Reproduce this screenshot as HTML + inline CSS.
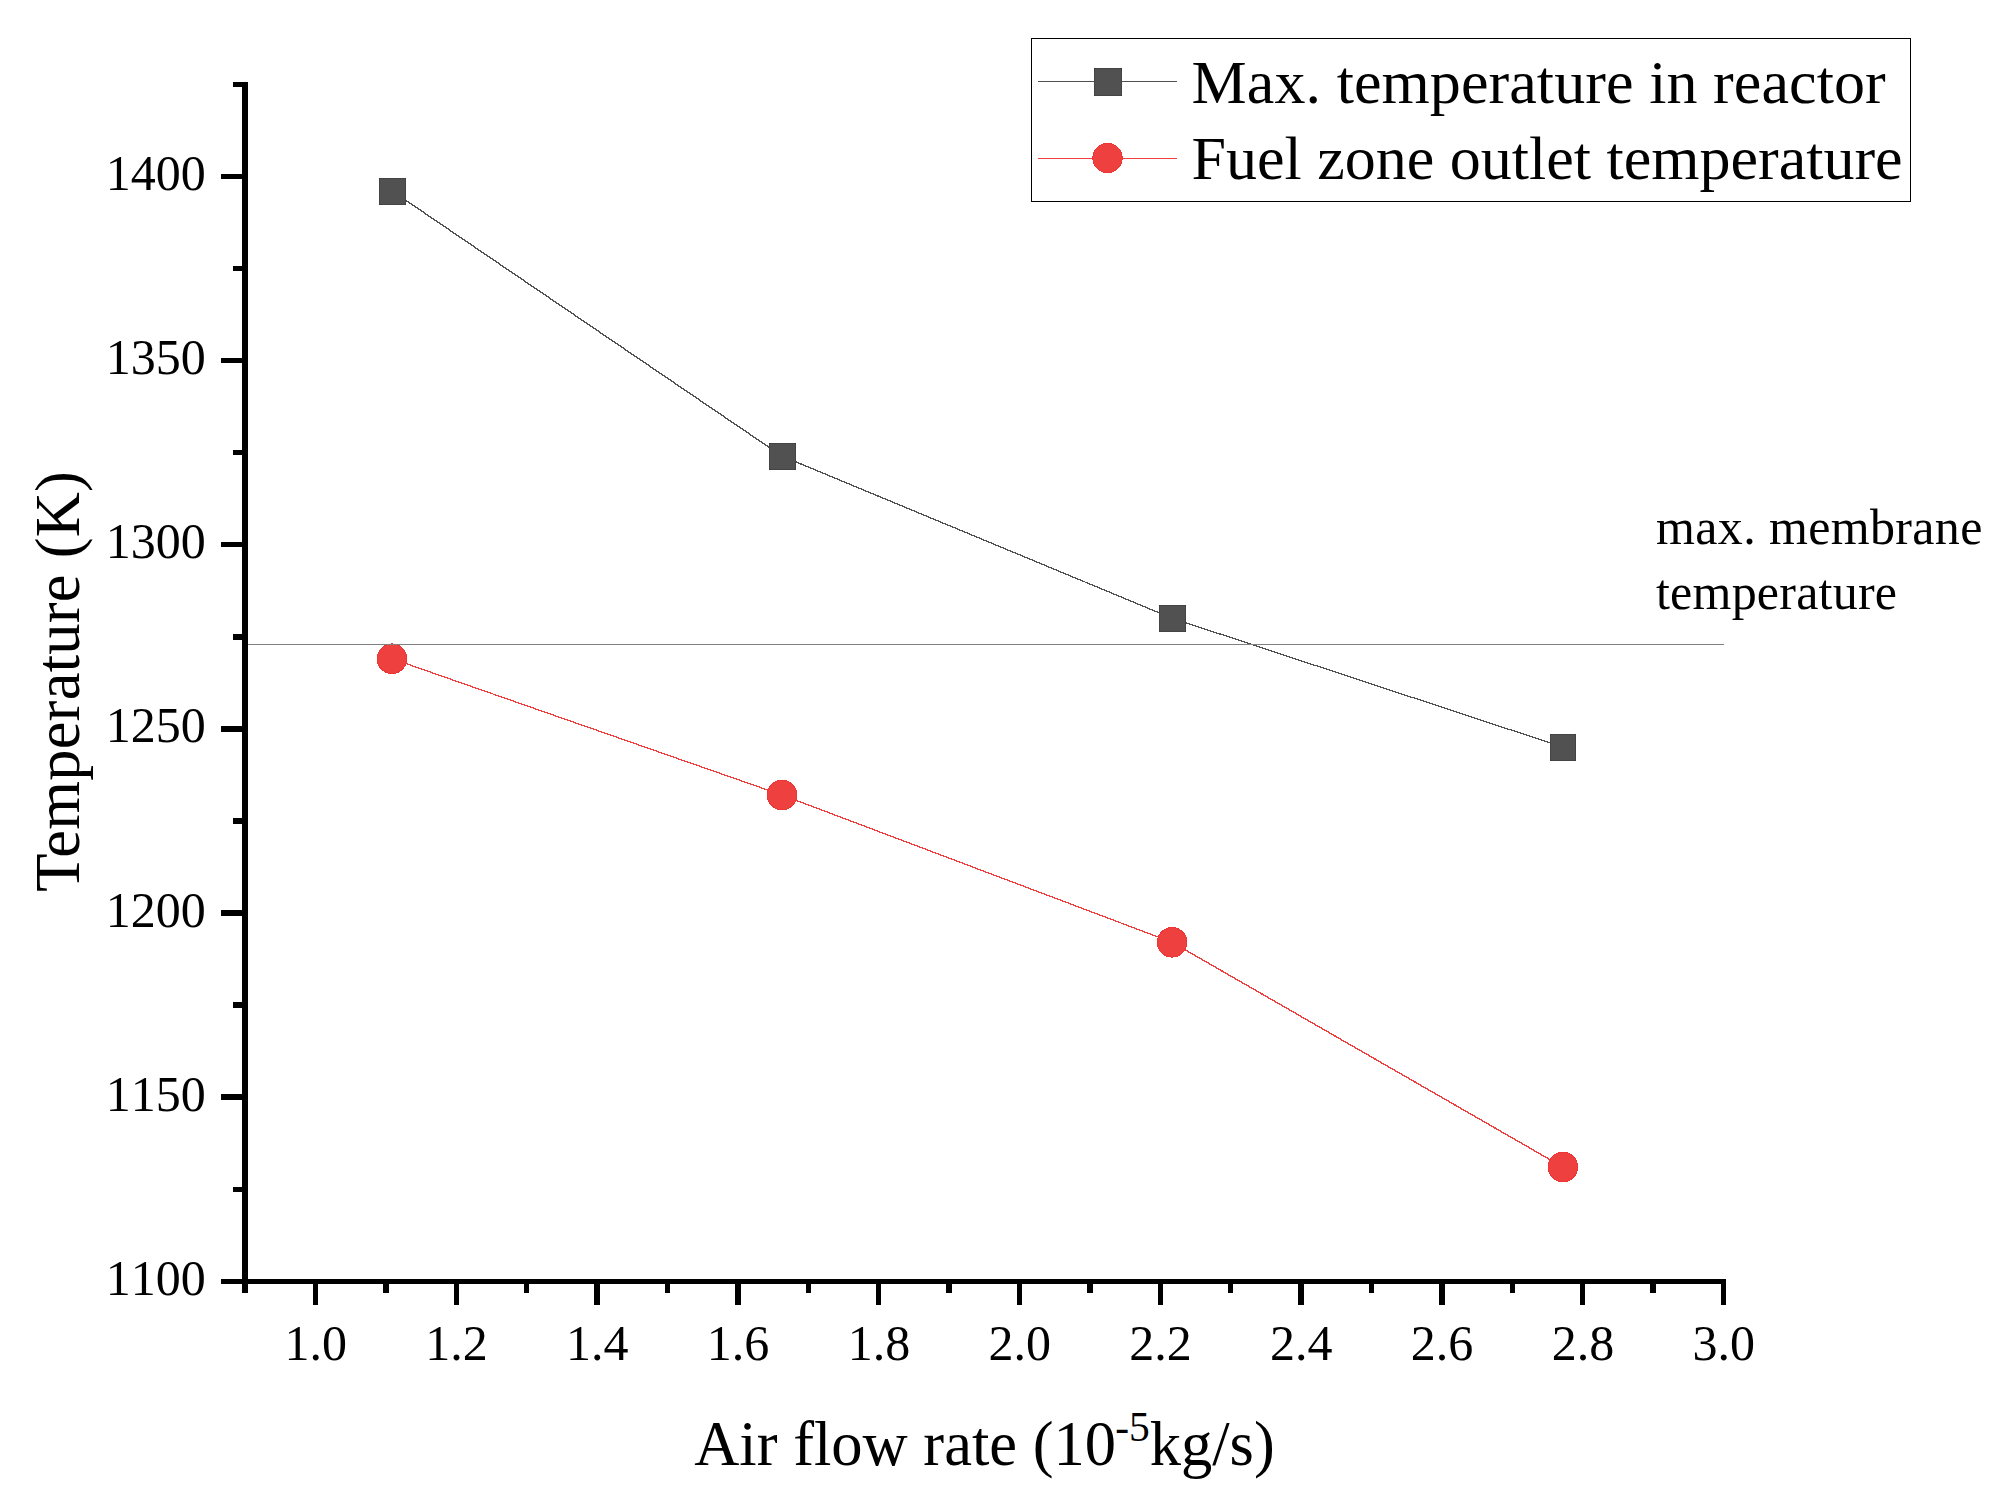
<!DOCTYPE html>
<html lang="en">
<head>
<meta charset="utf-8">
<title>Temperature vs air flow rate</title>
<style>
html,body{margin:0;padding:0;background:#fff;}
body{width:2007px;height:1502px;overflow:hidden;}
svg{display:block;}
</style>
</head>
<body>
<svg width="2007" height="1502" viewBox="0 0 2007 1502" font-family="'Liberation Serif', serif" fill="#000">
<rect width="2007" height="1502" fill="#fff"/>
<g fill="#000" shape-rendering="crispEdges">
<rect x="242" y="82" width="6" height="1202"/>
<rect x="242" y="1279" width="1484" height="5"/>
<rect x="221" y="1279" width="22" height="5"/>
<rect x="233" y="1187" width="10" height="5"/>
<rect x="221" y="1094" width="22" height="6"/>
<rect x="233" y="1002" width="10" height="6"/>
<rect x="221" y="910" width="22" height="6"/>
<rect x="233" y="818" width="10" height="6"/>
<rect x="221" y="726" width="22" height="6"/>
<rect x="233" y="634" width="10" height="6"/>
<rect x="221" y="542" width="22" height="5"/>
<rect x="233" y="450" width="10" height="5"/>
<rect x="221" y="358" width="22" height="5"/>
<rect x="233" y="266" width="10" height="5"/>
<rect x="221" y="174" width="22" height="5"/>
<rect x="233" y="82" width="10" height="5"/>
<rect x="242" y="1283" width="6" height="10"/>
<rect x="313" y="1283" width="5" height="22"/>
<rect x="383" y="1283" width="6" height="10"/>
<rect x="454" y="1283" width="5" height="22"/>
<rect x="524" y="1283" width="5" height="10"/>
<rect x="594" y="1283" width="6" height="22"/>
<rect x="665" y="1283" width="5" height="10"/>
<rect x="735" y="1283" width="6" height="22"/>
<rect x="806" y="1283" width="5" height="10"/>
<rect x="876" y="1283" width="5" height="22"/>
<rect x="946" y="1283" width="6" height="10"/>
<rect x="1017" y="1283" width="5" height="22"/>
<rect x="1087" y="1283" width="6" height="10"/>
<rect x="1158" y="1283" width="5" height="22"/>
<rect x="1228" y="1283" width="5" height="10"/>
<rect x="1298" y="1283" width="6" height="22"/>
<rect x="1369" y="1283" width="5" height="10"/>
<rect x="1439" y="1283" width="6" height="22"/>
<rect x="1510" y="1283" width="5" height="10"/>
<rect x="1580" y="1283" width="5" height="22"/>
<rect x="1650" y="1283" width="6" height="10"/>
<rect x="1721" y="1283" width="5" height="22"/>
</g>
<g font-size="50" style="font-kerning:none">
<text x="205.8" y="1294.8" text-anchor="end">1100</text>
<text x="205.8" y="1110.6" text-anchor="end">1150</text>
<text x="205.8" y="926.5" text-anchor="end">1200</text>
<text x="205.8" y="742.3" text-anchor="end">1250</text>
<text x="205.8" y="558.1" text-anchor="end">1300</text>
<text x="205.8" y="374.0" text-anchor="end">1350</text>
<text x="205.8" y="189.8" text-anchor="end">1400</text>
<text x="315.7" y="1359.6" text-anchor="middle">1.0</text>
<text x="456.5" y="1359.6" text-anchor="middle">1.2</text>
<text x="597.3" y="1359.6" text-anchor="middle">1.4</text>
<text x="738.1" y="1359.6" text-anchor="middle">1.6</text>
<text x="878.9" y="1359.6" text-anchor="middle">1.8</text>
<text x="1019.7" y="1359.6" text-anchor="middle">2.0</text>
<text x="1160.5" y="1359.6" text-anchor="middle">2.2</text>
<text x="1301.3" y="1359.6" text-anchor="middle">2.4</text>
<text x="1442.1" y="1359.6" text-anchor="middle">2.6</text>
<text x="1582.9" y="1359.6" text-anchor="middle">2.8</text>
<text x="1723.7" y="1359.6" text-anchor="middle">3.0</text>
</g>
<text font-size="62.5" text-anchor="middle" letter-spacing="0.24" transform="translate(78.7 681.3) rotate(-90)">Temperature (K)</text>
<text font-size="62.5" text-anchor="middle" x="984.5" y="1465">Air flow rate (10<tspan font-size="41.5" dy="-24" dx="-0.8">-5</tspan><tspan dy="24">kg/s)</tspan></text>
<line x1="392.0" y1="190.9" x2="782.0" y2="456.1" stroke="#515151" stroke-width="1.39" shape-rendering="crispEdges"/>
<line x1="782.0" y1="456.1" x2="1172.1" y2="618.2" stroke="#515151" stroke-width="1.31" shape-rendering="crispEdges"/>
<line x1="1172.1" y1="618.2" x2="1562.8" y2="747.1" stroke="#515151" stroke-width="1.26" shape-rendering="crispEdges"/>
<line x1="392.0" y1="658.7" x2="782.0" y2="795.0" stroke="#ef4040" stroke-width="1.27" shape-rendering="crispEdges"/>
<line x1="782.0" y1="795.0" x2="1172.1" y2="942.3" stroke="#ef4040" stroke-width="1.29" shape-rendering="crispEdges"/>
<line x1="1172.1" y1="942.3" x2="1562.8" y2="1167.0" stroke="#ef4040" stroke-width="1.37" shape-rendering="crispEdges"/>
<g shape-rendering="crispEdges">
<rect x="379" y="178" width="27" height="27" fill="#444444"/>
<rect x="380" y="179" width="25" height="25" fill="#515151"/>
<rect x="379" y="178" width="1" height="1" fill="#393939"/>
<rect x="379" y="204" width="1" height="1" fill="#393939"/>
<rect x="405" y="178" width="1" height="1" fill="#393939"/>
<rect x="405" y="204" width="1" height="1" fill="#393939"/>
<rect x="769" y="443" width="27" height="27" fill="#444444"/>
<rect x="770" y="444" width="25" height="25" fill="#515151"/>
<rect x="769" y="443" width="1" height="1" fill="#393939"/>
<rect x="769" y="469" width="1" height="1" fill="#393939"/>
<rect x="795" y="443" width="1" height="1" fill="#393939"/>
<rect x="795" y="469" width="1" height="1" fill="#393939"/>
<rect x="1159" y="605" width="27" height="27" fill="#444444"/>
<rect x="1160" y="606" width="25" height="25" fill="#515151"/>
<rect x="1159" y="605" width="1" height="1" fill="#393939"/>
<rect x="1159" y="631" width="1" height="1" fill="#393939"/>
<rect x="1185" y="605" width="1" height="1" fill="#393939"/>
<rect x="1185" y="631" width="1" height="1" fill="#393939"/>
<rect x="1550" y="734" width="26" height="27" fill="#444444"/>
<rect x="1551" y="735" width="24" height="25" fill="#515151"/>
<rect x="1550" y="734" width="1" height="1" fill="#393939"/>
<rect x="1550" y="760" width="1" height="1" fill="#393939"/>
<rect x="1575" y="734" width="1" height="1" fill="#393939"/>
<rect x="1575" y="760" width="1" height="1" fill="#393939"/>
<circle cx="392.00" cy="658.72" r="15.3" fill="#f03535"/>
<circle cx="392.00" cy="658.72" r="14.3" fill="#ef4040"/>
<circle cx="782.04" cy="795.00" r="15.3" fill="#f03535"/>
<circle cx="782.04" cy="795.00" r="14.3" fill="#ef4040"/>
<circle cx="1172.09" cy="942.34" r="15.3" fill="#f03535"/>
<circle cx="1172.09" cy="942.34" r="14.3" fill="#ef4040"/>
<circle cx="1562.84" cy="1167.02" r="15.3" fill="#f03535"/>
<circle cx="1562.84" cy="1167.02" r="14.3" fill="#ef4040"/>
</g>
<rect x="248" y="644" width="1476" height="1" fill="#808080" shape-rendering="crispEdges"/>
<text font-size="50" x="1656" y="544" letter-spacing="0.36">max. membrane</text>
<text font-size="50" x="1656" y="608.5" letter-spacing="0.22">temperature</text>
<rect x="1031.5" y="38.5" width="879" height="163" fill="#fff" stroke="#000" stroke-width="1" shape-rendering="crispEdges"/>
<g shape-rendering="crispEdges">
<rect x="1038" y="81" width="139" height="1" fill="#515151"/>
<rect x="1094" y="68" width="28" height="28" fill="#444444"/>
<rect x="1095" y="69" width="26" height="26" fill="#515151"/>
<rect x="1094" y="68" width="1" height="1" fill="#393939"/>
<rect x="1094" y="95" width="1" height="1" fill="#393939"/>
<rect x="1121" y="68" width="1" height="1" fill="#393939"/>
<rect x="1121" y="95" width="1" height="1" fill="#393939"/>
<rect x="1038" y="158" width="139" height="1" fill="#ef4040"/>
<circle cx="1107.5" cy="158" r="15.2" fill="#f03535"/>
<circle cx="1107.5" cy="158" r="14.2" fill="#ef4040"/>
</g>
<text font-size="62" x="1191.6" y="103" letter-spacing="0.08">Max. temperature in reactor</text>
<text font-size="62" x="1191.6" y="179">Fuel zone outlet temperature</text>
</svg>
</body>
</html>
